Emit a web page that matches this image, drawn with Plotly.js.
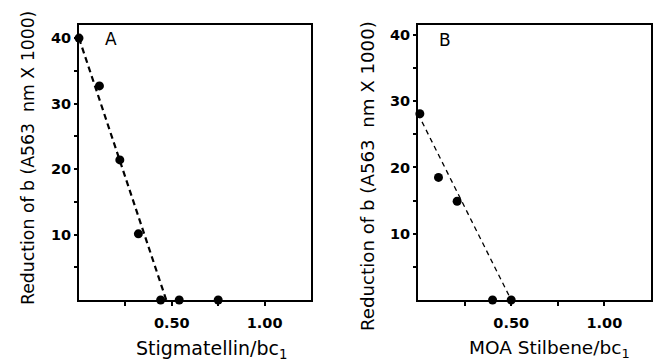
<!DOCTYPE html>
<html>
<head>
<meta charset="utf-8">
<script src="https://cdn.plot.ly/plotly-3.0.1.min.js"></script>
<style>html,body{margin:0;padding:0;background:#fff;}#chart{width:653px;height:362px;}</style>
</head>
<body>
<div id="chart"></div>
<script>
// Panel A: Stigmatellin
const stigX = [0.0, 0.11, 0.22, 0.32, 0.44, 0.54, 0.75];
const stigY = [40.0, 32.7, 21.4, 10.1, 0, 0, 0];
const stigFitX = [0.0, 0.47];
const stigFitY = [40.0, 0];
// Panel B: MOA Stilbene
const moaX = [0.01, 0.11, 0.21, 0.40, 0.50];
const moaY = [28.1, 18.5, 14.9, 0, 0];
const moaFitX = [0.0, 0.50];
const moaFitY = [28.1, 0];
// Tick labels
const xTickVals = [0.5, 1.0];
const xTickText = ["0.50", "1.00"];
const xMinorVals = [0.25, 0.75];
const yTickVals = [10, 20, 30, 40];
const yTickText = ["10", "20", "30", "40"];
const yMinorVals = [5, 15, 25, 35];
const yTitle = "Reduction of b (A563  nm X 1000)";

const font = "DejaVu Sans, Arial, sans-serif";
const traces = [
  {x: stigFitX, y: stigFitY, mode: "lines", line: {color: "#000", width: 2.2, dash: "6px,4px"}, xaxis: "x", yaxis: "y", hoverinfo: "skip"},
  {x: stigX, y: stigY, mode: "markers", marker: {color: "#000", size: 9}, xaxis: "x", yaxis: "y", cliponaxis: false},
  {x: moaFitX, y: moaFitY, mode: "lines", line: {color: "#000", width: 1.3, dash: "5px,4px"}, xaxis: "x2", yaxis: "y2", hoverinfo: "skip"},
  {x: moaX, y: moaY, mode: "markers", marker: {color: "#000", size: 9}, xaxis: "x2", yaxis: "y2", cliponaxis: false}
];

function xax(domain, anchor) {
  return {domain: domain, anchor: anchor, range: [0, 1.25], showgrid: false, zeroline: false,
    showline: true, mirror: true, linecolor: "#000", linewidth: 2,
    tickmode: "array", tickvals: xTickVals, ticktext: xTickText,
    ticks: "outside", ticklen: 4, tickwidth: 2, tickcolor: "#000", ticklabelstandoff: 5,
    minor: {tickmode: "array", tickvals: xMinorVals, ticks: "outside", ticklen: 4, tickwidth: 2, tickcolor: "#000"},
    tickfont: {family: font, size: 14.5, color: "#000", weight: "bold"}};
}
function yax(range, anchor) {
  return {domain: [0, 1], anchor: anchor, range: range, showgrid: false, zeroline: false,
    showline: true, mirror: true, linecolor: "#000", linewidth: 2,
    tickmode: "array", tickvals: yTickVals, ticktext: yTickText,
    ticks: "outside", ticklen: 3, tickwidth: 2, tickcolor: "#000", ticklabelstandoff: 0,
    minor: {tickmode: "array", tickvals: yMinorVals, ticks: "outside", ticklen: 3, tickwidth: 2, tickcolor: "#000"},
    tickfont: {family: font, size: 14.5, color: "#000", weight: "bold"}};
}

const layout = {
  width: 653, height: 362,
  margin: {l: 0, r: 0, t: 25, b: 62},
  paper_bgcolor: "#fff", plot_bgcolor: "#fff",
  showlegend: false,
  xaxis: xax([79/653, 311/653], "y"),
  yaxis: yax([0, 42], "x"),
  xaxis2: xax([418/653, 651/653], "y2"),
  yaxis2: yax([0, 41.5], "x2"),
  annotations: [
    {text: "A", xref: "x", yref: "y", x: 0.17, y: 39.8, showarrow: false, font: {family: font, size: 17, color: "#000"}},
    {text: "B", xref: "x2", yref: "y2", x: 0.145, y: 39.3, showarrow: false, font: {family: font, size: 17, color: "#000"}},
    {text: "Stigmatellin/bc<sub>1</sub>", xref: "paper", yref: "paper", x: 211/653, y: -49/275, xanchor: "center", yanchor: "middle", showarrow: false, font: {family: font, size: 19, color: "#000"}},
    {text: "MOA Stilbene/bc<sub>1</sub>", xref: "paper", yref: "paper", x: 549/653, y: -49/275, xanchor: "center", yanchor: "middle", showarrow: false, font: {family: font, size: 18.5, color: "#000"}},
    {text: yTitle, xref: "paper", yref: "paper", x: 28/653, y: (300-158)/275, xanchor: "center", yanchor: "middle", textangle: -90, showarrow: false, font: {family: font, size: 17.3, color: "#000"}},
    {text: yTitle, xref: "paper", yref: "paper", x: 367/653, y: (300-176)/275, xanchor: "center", yanchor: "middle", textangle: -90, showarrow: false, font: {family: font, size: 18.2, color: "#000"}}
  ]
};

Plotly.newPlot("chart", traces, layout, {displayModeBar: false, staticPlot: true});
</script>
</body>
</html>
